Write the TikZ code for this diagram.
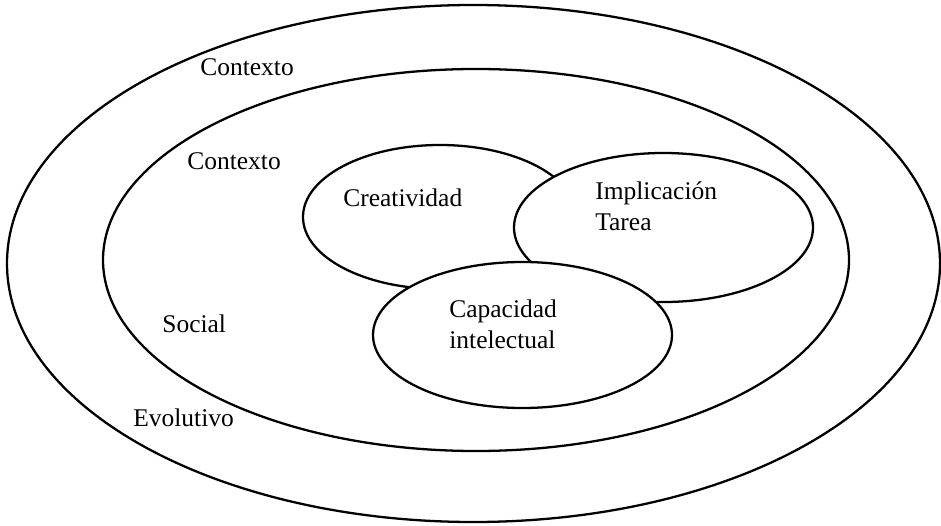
\documentclass[tikz,border=0pt]{standalone}
\usepackage{fontspec}
\setmainfont{Liberation Serif}
\usepackage{tikz}
\tikzset{
	ring/.style={line width=1.3pt},
	blob/.style={line width=1.3pt, fill=white},
	lbl/.style={anchor=base west, inner sep=0pt, align=left, font=\fontsize{14.5}{17.6}\selectfont}
}

\begin{document}
\begin{tikzpicture}
		%%%%% START %%%%%
		\useasboundingbox (0, 0) rectangle (18.82, 10.5);
		
		\draw[ring] (9.47, 5.23) ellipse (9.33 and 5.17);
		\draw[ring] (9.52, 5.30) ellipse (7.46 and 3.82);
		
		\draw[blob] (8.80, 6.16) ellipse (2.74 and 1.44);
		\draw[blob] (13.27, 5.95) ellipse (2.99 and 1.49);
		\draw[blob] (10.45, 3.80) ellipse (2.99 and 1.46);
		
		\node[lbl] (ctxout) at (4.00, 8.98) {Contexto};
		\node[lbl] (ctxin) at (3.74, 7.10) {Contexto};
		\node[lbl] (social) at (3.24, 3.86) {Social};
		\node[lbl] (evol) at (2.66, 1.98) {Evolutivo};
		
		% base of a two-line label is its last line
		\node[lbl] (creat) at (6.86, 6.36) {Creatividad};
		\node[lbl] (impl) at (11.90, 5.90) {Implicación\\Tarea};
		\node[lbl] (capac) at (8.98, 3.54) {Capacidad\\intelectual};
		
		%%%%% END %%%%%
	\end{tikzpicture}
\end{document}
